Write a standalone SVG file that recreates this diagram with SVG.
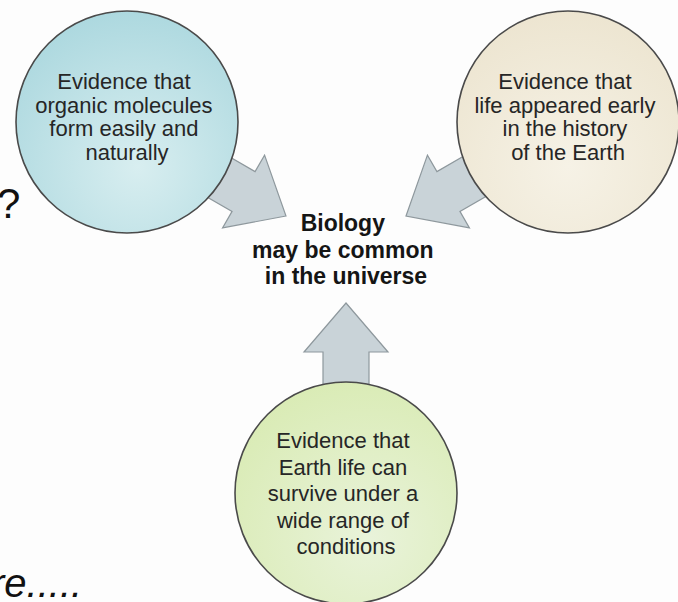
<svg xmlns="http://www.w3.org/2000/svg" width="678" height="602" viewBox="0 0 678 602">
  <style>
    .bubble { stroke: #4a4a4a; stroke-width: 1.6; }
    .arrow { fill: #c9d3d8; stroke: #8e989d; stroke-width: 1.2; stroke-linejoin: miter; }
    .label { font-family: "Liberation Sans", Arial, sans-serif; font-size: 22px; fill: #262626; text-anchor: middle; }
    .hub { font-family: "Liberation Sans", Arial, sans-serif; font-size: 23px; font-weight: bold; fill: #151515; text-anchor: middle; }
    .slide { font-family: "Liberation Sans", Arial, sans-serif; fill: #111; }
  </style>
  <defs>
    <radialGradient id="gBlue" cx="0.55" cy="0.7" r="0.75">
      <stop offset="0" stop-color="#d8eef0"/>
      <stop offset="1" stop-color="#aad7de"/>
    </radialGradient>
    <radialGradient id="gSand" cx="0.5" cy="0.7" r="0.75">
      <stop offset="0" stop-color="#f6f2e6"/>
      <stop offset="1" stop-color="#ece4cf"/>
    </radialGradient>
    <radialGradient id="gLeaf" cx="0.6" cy="0.7" r="0.75">
      <stop offset="0" stop-color="#e9f3da"/>
      <stop offset="1" stop-color="#d9ebb4"/>
    </radialGradient>
    <!-- block arrow pointing up, tip at origin -->
    <polygon id="blockArrow" points="0,0 42,49 23,49 23,95 -23,95 -23,49 -42,49"/>
  </defs>

  <rect width="678" height="602" fill="#fdfdfd"/>

  <!-- partial slide text at the left margin -->
  <text class="slide" x="-3" y="218" font-size="42">?</text>
  <text class="slide" x="-9" y="597" font-size="40" font-style="italic">re.....</text>

  <!-- connectors -->
  <g id="connectors">
    <use href="#blockArrow" class="arrow" transform="translate(286,216) rotate(120)"/>
    <use href="#blockArrow" class="arrow" transform="translate(406,216) rotate(-120)"/>
    <use href="#blockArrow" class="arrow" transform="translate(346,303)"/>
  </g>

  <g id="node-molecules">
    <circle class="bubble" cx="127" cy="122" r="111" fill="url(#gBlue)"/>
    <text class="label" x="127">
      <tspan x="127" y="89">Evidence that</tspan>
      <tspan x="127" y="112.5">organic molecules</tspan>
      <tspan x="127" y="136">form easily and</tspan>
      <tspan x="127" y="159.5">naturally</tspan>
    </text>
  </g>

  <g id="node-early-life">
    <circle class="bubble" cx="568" cy="122" r="111" fill="url(#gSand)"/>
    <text class="label" x="568">
      <tspan x="568" y="89">Evidence that</tspan>
      <tspan x="568" y="112.5">life appeared early</tspan>
      <tspan x="568" y="136">in the history</tspan>
      <tspan x="568" y="159.5">of the Earth</tspan>
    </text>
  </g>

  <g id="node-survival">
    <circle class="bubble" cx="346" cy="493" r="111" fill="url(#gLeaf)"/>
    <text class="label" x="346" font-size="22.5">
      <tspan x="346" y="448">Evidence that</tspan>
      <tspan x="346" y="474.5">Earth life can</tspan>
      <tspan x="346" y="501">survive under a</tspan>
      <tspan x="346" y="527.5">wide range of</tspan>
      <tspan x="346" y="554">conditions</tspan>
    </text>
  </g>

  <g id="node-conclusion">
    <text class="hub" x="346">
      <tspan x="346" y="231">Biology</tspan>
      <tspan x="346" y="258">may be common</tspan>
      <tspan x="346" y="284">in the universe</tspan>
    </text>
  </g>
</svg>
